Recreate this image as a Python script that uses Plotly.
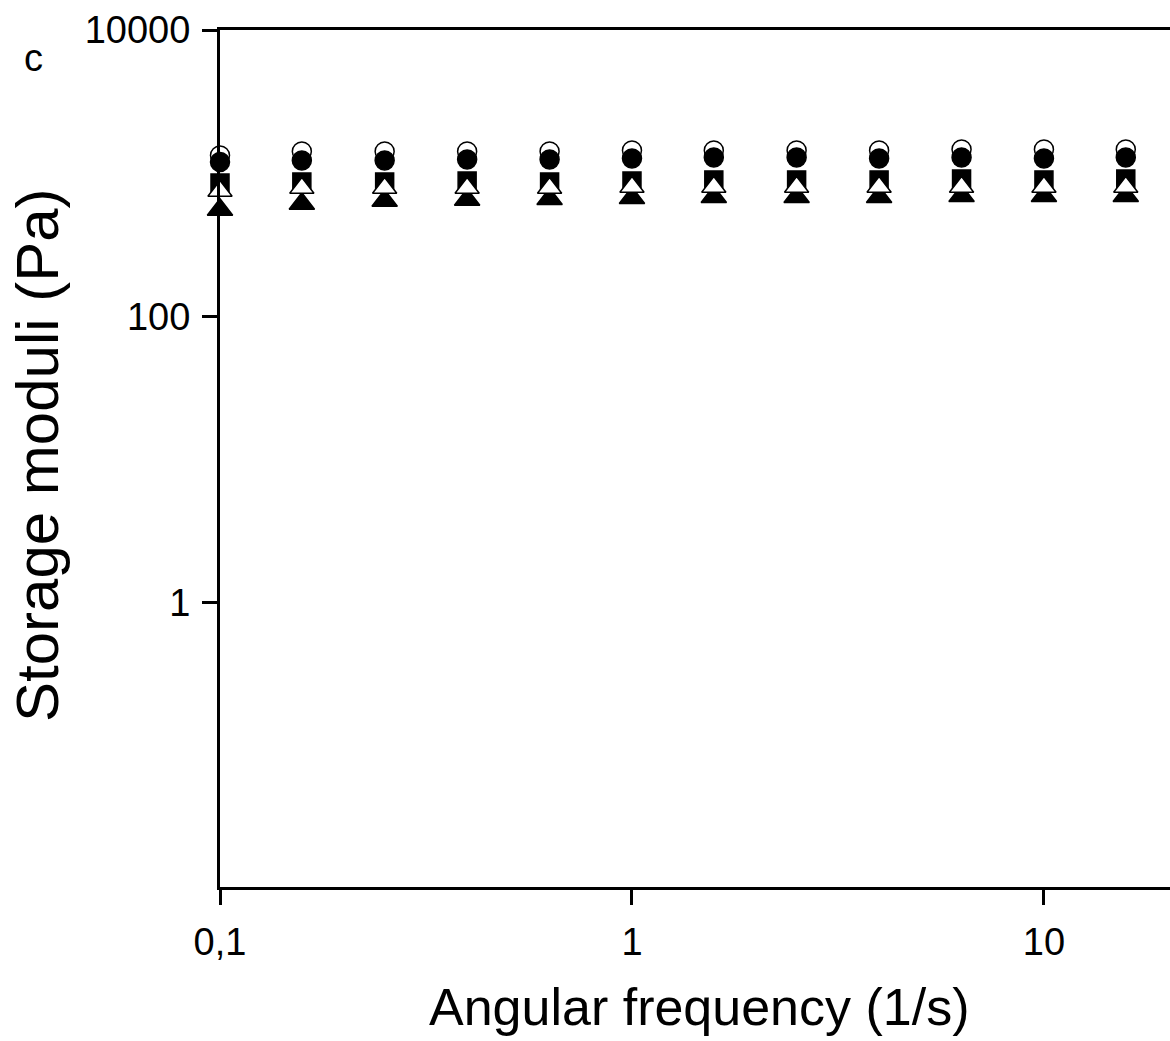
import plotly.graph_objects as go

# Angular frequency sweep (1/s)
freq = [0.1, 0.158, 0.251, 0.398, 0.631, 1.0, 1.58, 2.51, 3.98, 6.31, 10.0, 15.8]

# Storage moduli (Pa) for the five samples
g_open_circle = [1330, 1418, 1418, 1418, 1418, 1441, 1441, 1441, 1441, 1465, 1465, 1465]
g_filled_circle = [1198, 1227, 1227, 1247, 1247, 1268, 1288, 1288, 1268, 1288, 1268, 1288]
g_filled_square = [855, 869, 869, 883, 869, 883, 898, 898, 898, 912, 898, 912]
g_filled_triangle = [556, 612, 642, 653, 661, 672, 683, 683, 683, 694, 694, 694]
g_open_triangle = [752, 789, 789, 789, 789, 802, 802, 802, 802, 802, 802, 802]

x_tickvals = [0.1, 1, 10]
x_ticktext = ["0,1", "1", "10"]
y_tickvals = [1, 100, 10000]
y_ticktext = ["1", "100", "10000"]

FONT = "Liberation Sans, Arial, sans-serif"

fig = go.Figure()

series = [
    (g_open_circle, "circle", 19, "white"),
    (g_filled_circle, "circle", 19, "black"),
    (g_filled_square, "square", 18, "black"),
    (g_filled_triangle, "triangle-up", 22, "black"),
    (g_open_triangle, "triangle-up", 21, "white"),
]
for vals, sym, size, fill in series:
    fig.add_trace(go.Scatter(
        x=freq, y=vals, mode="markers", cliponaxis=False,
        marker=dict(symbol=sym, size=size, color=fill,
                    line=dict(color="black", width=1.5)),
        showlegend=False,
    ))

fig.update_layout(
    width=1170, height=1041,
    margin=dict(l=220, r=0, t=30, b=154),
    paper_bgcolor="white", plot_bgcolor="white",
    font=dict(family=FONT, color="black"),
)

fig.update_xaxes(
    type="log", range=[-1, 1.306],
    tickvals=x_tickvals, ticktext=x_ticktext,
    ticks="outside", ticklen=15, tickwidth=2.5, tickcolor="black",
    showline=True, linewidth=3, linecolor="black", mirror=True,
    showgrid=False, zeroline=False,
    tickfont=dict(size=38, family=FONT), ticklabelstandoff=4,
)
fig.update_yaxes(
    type="log", range=[-1.983, 4],
    tickvals=y_tickvals, ticktext=y_ticktext,
    ticks="outside", ticklen=15, tickwidth=2.5, tickcolor="black",
    showline=True, linewidth=3, linecolor="black",
    showgrid=False, zeroline=False,
    tickfont=dict(size=38, family=FONT), ticklabelstandoff=4,
)

# Axis titles and panel letter
fig.add_annotation(
    text="Angular frequency (1/s)", xref="paper", yref="paper",
    x=(699 - 220) / 950, y=(887 - 1007) / 857,
    xanchor="center", yanchor="middle", showarrow=False,
    font=dict(size=52, family=FONT),
)
fig.add_annotation(
    text="Storage moduli (Pa)", xref="paper", yref="paper",
    x=(37 - 220) / 950, y=(887 - 455) / 857, textangle=-90,
    xanchor="center", yanchor="middle", showarrow=False,
    font=dict(size=60, family=FONT),
)
fig.add_annotation(
    text="c", xref="paper", yref="paper",
    x=(33 - 220) / 950, y=(887 - 58) / 857,
    xanchor="center", yanchor="middle", showarrow=False,
    font=dict(size=38, family=FONT),
)

fig.write_html("out.html")
